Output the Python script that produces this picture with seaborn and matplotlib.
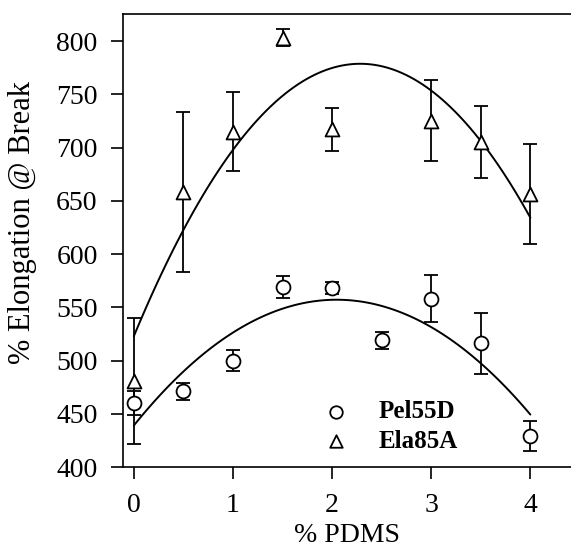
import numpy as np
import pandas as pd
import seaborn as sns
import matplotlib.pyplot as plt

# values
pel_x = [0, 0.5, 1, 1.5, 2, 2.5, 3, 3.5, 4]
pel_y = [460, 471, 500, 569, 568, 519, 558, 516, 429]
pel_err = [11, 8, 10, 10, 6, 8, 22, 29, 14]

ela_x = [0, 0.5, 1, 1.5, 2, 3, 3.5, 4]
ela_y = [481, 658, 715, 803, 717, 725, 705, 656]
ela_err = [59, 75, 37, 8, 20, 38, 34, 47]

sns.set_style("ticks", rc={'axes.edgecolor': 'black', 'text.color': 'black',
                           'axes.labelcolor': 'black', 'xtick.color': 'black',
                           'ytick.color': 'black'})
plt.rcParams['font.family'] = ['Liberation Serif', 'DejaVu Serif']

pel = pd.DataFrame({'pdms': pel_x, 'elong': pel_y, 'err': pel_err})
ela = pd.DataFrame({'pdms': ela_x, 'elong': ela_y, 'err': ela_err})

fig = plt.figure(figsize=(5.71, 5.58), dpi=100)
ax = fig.add_axes([0.216, 0.163, 0.784, 0.812])

for d in (pel, ela):
    ax.errorbar(d['pdms'], d['elong'], yerr=d['err'], fmt='none',
                ecolor='black', elinewidth=1.3, capsize=5, capthick=1.3, zorder=2)
    sns.regplot(data=d, x='pdms', y='elong', order=2, ci=None, scatter=False,
                line_kws={'color': 'black', 'lw': 1.4}, ax=ax)

sns.scatterplot(data=pel, x='pdms', y='elong', marker='o', s=100,
                facecolor='white', edgecolor='black', linewidth=1.3,
                zorder=3, ax=ax, label='Pel55D')
sns.scatterplot(data=ela, x='pdms', y='elong', marker='^', s=100,
                facecolor='white', edgecolor='black', linewidth=1.3,
                zorder=3, ax=ax, label='Ela85A')

ax.set_xlim(-0.106, 4.41)
ax.set_ylim(400, 825.4)
ax.set_xticks([0, 1, 2, 3, 4])
ax.set_yticks(range(400, 801, 50))
ax.tick_params(labelsize=20, direction='out', length=8.5, width=1.2, pad=10)
ax.set_xlabel('% PDMS', fontsize=20, labelpad=4)
ax.set_ylabel('% Elongation @ Break', fontsize=22)
ax.yaxis.set_label_coords(-0.192, 0.54)
sns.despine(ax=ax, top=False, right=True)
for s in ax.spines.values():
    s.set_linewidth(1.2)

leg = ax.legend(loc='lower left', bbox_to_anchor=(0.37, -0.018), frameon=False,
                prop={'weight': 'bold', 'size': 18}, handletextpad=0.7,
                labelspacing=0.25, markerscale=0.9)

fig.savefig('out.png', dpi=100)
